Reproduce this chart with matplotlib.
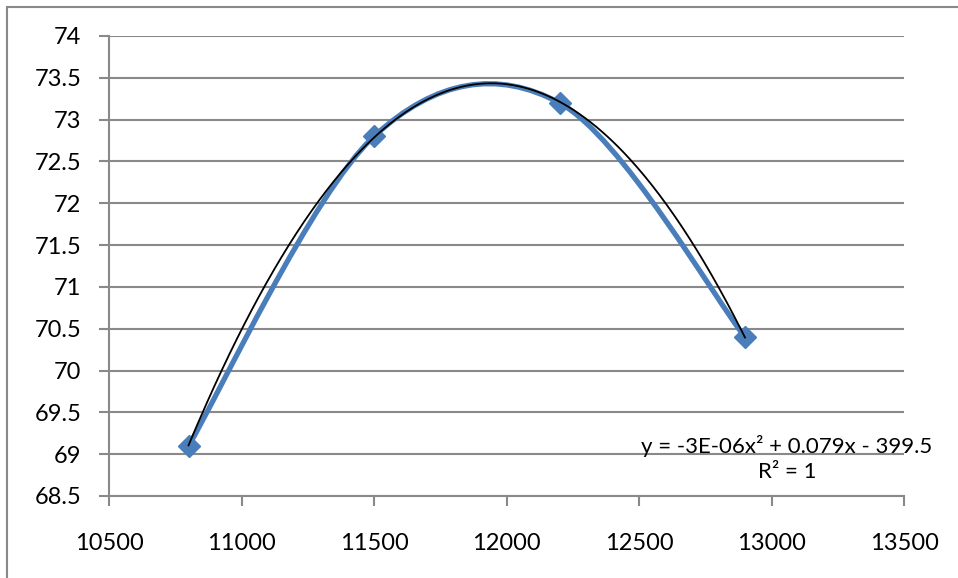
import numpy as np
import matplotlib
matplotlib.use("Agg")
import matplotlib.pyplot as plt
from matplotlib.path import Path
from matplotlib.patches import PathPatch, Rectangle

# data
x_vals = [10800, 11500, 12200, 12900]
y_vals = [69.1, 72.8, 73.2, 70.4]
x_ticks = [10500, 11000, 11500, 12000, 12500, 13000, 13500]
y_ticks = [68.5, 69, 69.5, 70, 70.5, 71, 71.5, 72, 72.5, 73, 73.5, 74]
trend_label = "y = -3E-06x² + 0.079x - 399.5\nR² = 1"

BLUE = "#4a7ebb"
GRID = "#898989"

plt.rcParams["font.family"] = ["Lato", "DejaVu Sans"]

W, H = 958, 578
fig = plt.figure(figsize=(W / 100, H / 100), dpi=100)
ax = fig.add_axes([109 / W, (H - 496) / H, (904 - 109) / W, (496 - 36) / H])

# outer chart border (cut off at right/bottom like the reference)
fig.patches.append(Rectangle((7 / W, -0.1), 1.1, (H - 7) / H + 0.1,
                             transform=fig.transFigure, fill=False,
                             edgecolor=GRID, linewidth=1.5))


def smooth_path(xs, ys):
    # Excel-style smoothed line: cubic bezier segments, catmull-rom tangents
    pts = np.column_stack([xs, ys]).astype(float)
    n = len(pts)
    verts = [pts[0]]
    codes = [Path.MOVETO]
    for i in range(n - 1):
        p_prev = pts[max(i - 1, 0)]
        p0, p1 = pts[i], pts[i + 1]
        p_next = pts[min(i + 2, n - 1)]
        c1 = p0 + (p1 - p_prev) / 6
        c2 = p1 - (p_next - p0) / 6
        verts += [c1, c2, p1]
        codes += [Path.CURVE4] * 3
    return Path(verts, codes)


ax.add_patch(PathPatch(smooth_path(x_vals, y_vals), facecolor="none",
                       edgecolor=BLUE, linewidth=3.8, capstyle="round",
                       joinstyle="round", zorder=3))
ax.plot(x_vals, y_vals, linestyle="none", marker="D", markersize=11,
        color=BLUE, zorder=4)

# polynomial trendline (order 2) as Excel draws it
coef = np.polyfit(x_vals, y_vals, 2)
xt = np.linspace(min(x_vals), max(x_vals), 300)
ax.plot(xt, np.polyval(coef, xt), color="black", linewidth=1.3, zorder=5)

ax.text(13058, 68.95, trend_label, ha="center", va="center", fontsize=16,
        linespacing=1.35, clip_on=False, zorder=6)

ax.set_xlim(10500, 13500)
ax.set_ylim(68.5, 74)
ax.set_xticks(x_ticks)
ax.set_yticks(y_ticks)
ax.set_xticklabels([str(t) for t in x_ticks])
ax.set_yticklabels([f"{t:g}" for t in y_ticks])
ax.grid(axis="y", color=GRID, linewidth=1.5)
ax.set_axisbelow(True)
for s in ("top", "right"):
    ax.spines[s].set_visible(False)
for s in ("left", "bottom"):
    ax.spines[s].set_color(GRID)
    ax.spines[s].set_linewidth(1.5)
ax.tick_params(axis="both", direction="out", length=7, width=1.5,
               color=GRID, labelsize=17, labelcolor="black")
ax.tick_params(axis="y", pad=13)
ax.tick_params(axis="x", pad=20)

fig.savefig("out.png", dpi=100)
